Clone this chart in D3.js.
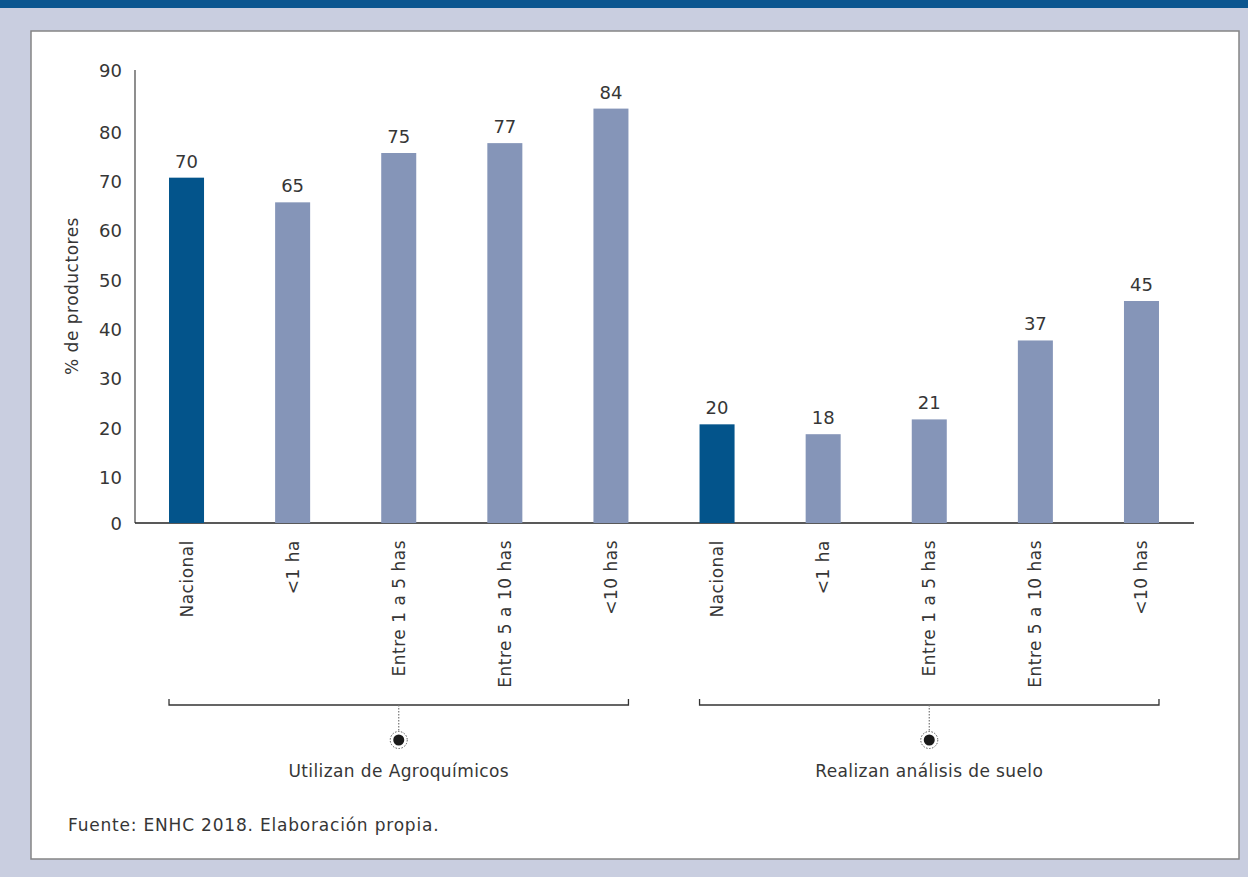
<!DOCTYPE html>
<html>
<head>
<meta charset="utf-8">
<script src="https://cdn.jsdelivr.net/npm/d3@7"></script>
<style>
  body { margin: 0; background: #c9cee0; }
  text { font-family: "DejaVu Sans", sans-serif; font-weight: 400; fill: #363636; }
</style>
</head>
<body>
<div class="container"></div>
<script>
document.addEventListener('DOMContentLoaded', function(){

    // Data
    const categories = ["Nacional", "<1 ha", "Entre 1 a 5 has", "Entre 5 a 10 has", "<10 has"]
    const groups = ["Utilizan de Agroquímicos", "Realizan análisis de suelo"]
    const agroValues = [70, 65, 75, 77, 84]
    const sueloValues = [20, 18, 21, 37, 45]
    const yTicks = [0, 10, 20, 30, 40, 50, 60, 70, 80, 90]

    const width = 1248
    const height = 877
    const margin = {"top": 79, "bottom": 354, "left": 135, "right": 53}

    const data = []
    groups.forEach((g, gi) => {
        const vals = gi === 0 ? agroValues : sueloValues
        categories.forEach((c, ci) => {
            data.push({key: gi + "-" + ci, group: g, gi: gi, cat: c, value: vals[ci], national: ci === 0})
        })
    })

    const svg = d3.select(".container")
        .append("svg")
        .attr("width", width)
        .attr("height", height)
        .style("display", "block")

    // background frame
    svg.append("rect").attr("x", 0).attr("y", 0).attr("width", width).attr("height", height).attr("fill", "#c9cee0")
    svg.append("rect").attr("x", 0).attr("y", 0).attr("width", width).attr("height", 8).attr("fill", "#0b5690")
    svg.append("rect")
        .attr("x", 31).attr("y", 31).attr("width", 1208).attr("height", 828)
        .attr("fill", "#fff").attr("stroke", "#858585").attr("stroke-width", 1.5)

    const xScale = d3.scaleBand()
        .domain(data.map(d => d.key))
        .range([margin.left - 1, width - margin.right - 1])
        .paddingInner(0.67)
        .paddingOuter(0.33)

    const yScale = d3.scaleLinear()
        .domain([0, 90])
        .range([height - margin.bottom, margin.top])

    // y axis
    const yAxis = svg.append("g")
        .attr("transform", `translate(${margin.left}, 0)`)
        .call(d3.axisLeft(yScale).tickValues(yTicks).tickSize(0).tickPadding(13))
    yAxis.select(".domain").remove()
    yAxis.selectAll("text")
        .style("font-size", "18px")
        .style("font-family", "'DejaVu Sans', sans-serif")
        .attr("fill", "#363636")
        .attr("dy", d => d === 0 ? "0.35em" : (d === 90 ? "-0.15em" : "0.55em"))
    svg.append("line")
        .attr("x1", margin.left).attr("x2", margin.left)
        .attr("y1", 70).attr("y2", yScale(0))
        .attr("stroke", "#444").attr("stroke-width", 1.2)

    // x axis line
    svg.append("line")
        .attr("x1", margin.left).attr("x2", 1194)
        .attr("y1", yScale(0)).attr("y2", yScale(0))
        .attr("stroke", "#222").attr("stroke-width", 1.5)

    // y title
    svg.append("text")
        .attr("transform", `translate(78, ${296}) rotate(-90)`)
        .attr("text-anchor", "middle")
        .style("font-size", "17px")
        .style("letter-spacing", "0.5px")
        .text("% de productores")

    // bars
    svg.append("g")
        .selectAll("rect")
        .data(data)
        .enter()
        .append("rect")
            .attr("x", d => xScale(d.key))
            .attr("width", xScale.bandwidth())
            .attr("y", d => yScale(d.value))
            .attr("height", d => yScale(0) - yScale(d.value))
            .attr("fill", d => d.national ? "#03548b" : "#8595b8")

    // value labels
    svg.append("g")
        .selectAll("text")
        .data(data)
        .enter()
        .append("text")
            .attr("x", d => xScale(d.key) + xScale.bandwidth() / 2)
            .attr("y", d => yScale(d.value) - 10)
            .attr("text-anchor", "middle")
            .style("font-size", "18px")
            .text(d => d.value)

    // category labels
    svg.append("g")
        .selectAll("text")
        .data(data)
        .enter()
        .append("text")
            .attr("transform", d => `translate(${xScale(d.key) + xScale.bandwidth() / 2 + 6}, 540) rotate(-90)`)
            .attr("text-anchor", "end")
            .style("font-size", "17px")
            .style("letter-spacing", "0.5px")
            .text(d => d.cat)

    // group brackets
    const bracketY = 705
    groups.forEach((g, gi) => {
        const keys = data.filter(d => d.gi === gi).map(d => d.key)
        const x0 = xScale(keys[0])
        const x1 = xScale(keys[keys.length - 1]) + xScale.bandwidth()
        const mid = (x0 + x1) / 2
        const br = svg.append("g")
        br.append("path")
            .attr("d", `M${x0},${bracketY - 6}V${bracketY}H${x1}V${bracketY - 6}`)
            .attr("fill", "none").attr("stroke", "#333").attr("stroke-width", 1.3)
        br.append("line")
            .attr("x1", mid).attr("x2", mid)
            .attr("y1", bracketY).attr("y2", 731)
            .attr("stroke", "#777").attr("stroke-width", 1.2).attr("stroke-dasharray", "1.5,1.5")
        br.append("circle")
            .attr("cx", mid).attr("cy", 740).attr("r", 8.5)
            .attr("fill", "none").attr("stroke", "#555").attr("stroke-width", 1).attr("stroke-dasharray", "1.5,1.5")
        br.append("circle")
            .attr("cx", mid).attr("cy", 740).attr("r", 5.5)
            .attr("fill", "#1a1a1a")
        br.append("text")
            .attr("x", mid).attr("y", 777)
            .attr("text-anchor", "middle")
            .style("font-size", "17px")
            .style("letter-spacing", "0.4px")
            .text(g)
    })

    // source
    svg.append("text")
        .attr("x", 68).attr("y", 831)
        .style("font-size", "17px")
        .style("letter-spacing", "0.8px")
        .text("Fuente: ENHC 2018. Elaboración propia.")

});
</script>
</body>
</html>
